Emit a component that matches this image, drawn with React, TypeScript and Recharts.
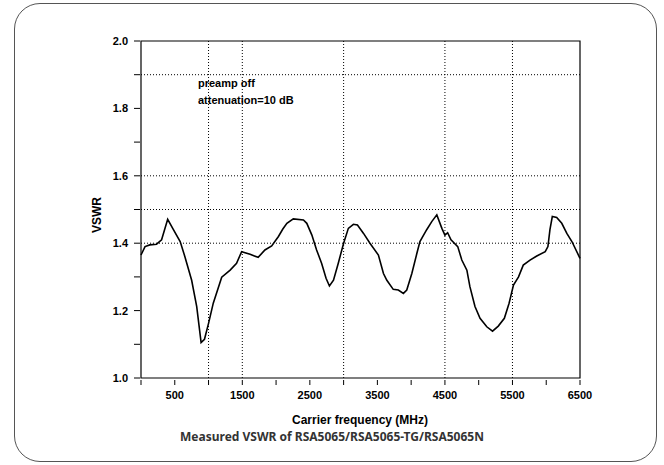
import React from "react";
import {
    LineChart,
    Line,
    XAxis,
    YAxis,
    ReferenceLine,
    ReferenceArea,
} from "recharts";

// 측정 주파수 (MHz)
const freqs = [
    0, 60, 130, 230, 305, 395, 480, 580, 650, 750, 825, 890, 940, 1000,
    1070, 1195, 1320, 1415, 1490, 1615, 1735, 1835, 1935, 2035, 2100, 2160,
    2255, 2405, 2455, 2530, 2600, 2675, 2740, 2790, 2850, 2920, 3000, 3070,
    3145, 3205, 3295, 3390, 3515, 3590, 3640, 3735, 3810, 3885, 3935, 4010,
    4085, 4130, 4230, 4305, 4380, 4455, 4500, 4540, 4590, 4690, 4750, 4825,
    4870, 4945, 5020, 5120, 5205, 5290, 5380, 5450, 5515, 5590, 5660, 5760,
    5860, 5985, 6025, 6055, 6090, 6155, 6230, 6305, 6380, 6500,
];

// VSWR 값
const vswr = [
    1.365, 1.39, 1.395, 1.397, 1.41, 1.471, 1.44, 1.405, 1.36, 1.29, 1.212,
    1.105, 1.115, 1.162, 1.222, 1.299, 1.32, 1.34, 1.375, 1.367, 1.358, 1.38,
    1.392, 1.42, 1.442, 1.459, 1.472, 1.469, 1.459, 1.424, 1.38, 1.34, 1.296,
    1.273, 1.29, 1.34, 1.4, 1.444, 1.456, 1.454, 1.429, 1.4, 1.365, 1.31,
    1.29, 1.263, 1.261, 1.251, 1.261, 1.31, 1.37, 1.405, 1.44, 1.464, 1.484,
    1.444, 1.424, 1.431, 1.41, 1.39, 1.35, 1.32, 1.271, 1.212, 1.177, 1.152,
    1.139, 1.154, 1.177, 1.222, 1.276, 1.3, 1.335, 1.35, 1.362, 1.375, 1.39,
    1.44, 1.479, 1.476, 1.459, 1.429, 1.405, 1.355,
];

const xTicks = [0, 500, 1000, 1500, 2000, 2500, 3000, 3500, 4000, 4500, 5000, 5500, 6000, 6500];
const xLabels = [500, 1500, 2500, 3500, 4500, 5500, 6500];
const yTicks = [1.0, 1.1, 1.2, 1.3, 1.4, 1.5, 1.6, 1.7, 1.8, 1.9, 2.0];
const yLabels = [1.0, 1.2, 1.4, 1.6, 1.8, 2.0];

// 점선 격자 위치
const hGrid = [1.4, 1.5, 1.6, 1.9];
const vGrid = [1000, 1500, 3000, 4500, 5500];

const notes = ["preamp off", "attenuation=10 dB"];

const data = freqs.map((f, i) => ({ freq: f, vswr: vswr[i] }));

const FONT = "'Liberation Sans', Arial, sans-serif";

const XTick = (props: any) => {
    const { x, y, payload } = props;
    const show = xLabels.includes(payload.value);
    return (
        <g>
            <line x1={x} y1={y - 6} x2={x} y2={y - 1} stroke="#000" />
            {show && (
                <text
                    x={x}
                    y={y + 13}
                    textAnchor="middle"
                    fontFamily={FONT}
                    fontWeight="bold"
                    fontSize={11}
                    fill="#000"
                >
                    {payload.value}
                </text>
            )}
        </g>
    );
};

const YTick = (props: any) => {
    const { x, y, payload } = props;
    const show = yLabels.some((v) => Math.abs(v - payload.value) < 1e-6);
    return (
        <g>
            <line x1={x + 1} y1={y} x2={x + 7} y2={y} stroke="#000" />
            {show && (
                <text
                    x={x - 5}
                    y={y + 4}
                    textAnchor="end"
                    fontFamily={FONT}
                    fontWeight="bold"
                    fontSize={11}
                    fill="#000"
                >
                    {payload.value.toFixed(1)}
                </text>
            )}
        </g>
    );
};

const App = () => {
    return (
        <div
            style={{
                position: "absolute",
                left: 0,
                top: 0,
                width: 664,
                height: 465,
                background: "#fff",
            }}
        >
            <div
                style={{
                    position: "absolute",
                    left: 14,
                    top: 3,
                    width: 643,
                    height: 459,
                    border: "1px solid #555",
                    borderRadius: 26,
                    boxSizing: "border-box",
                }}
            />
            <LineChart
                width={664}
                height={465}
                data={data}
                margin={{ top: 41, right: 84, left: 101, bottom: 57 }}
                style={{ position: "absolute", left: 0, top: 0 }}
            >
                <XAxis
                    dataKey="freq"
                    type="number"
                    domain={[0, 6500]}
                    ticks={xTicks}
                    interval={0}
                    tick={<XTick />}
                    tickLine={false}
                    axisLine={false}
                    height={30}
                />
                <YAxis
                    type="number"
                    domain={[1, 2]}
                    ticks={yTicks}
                    interval={0}
                    tick={<YTick />}
                    tickLine={false}
                    axisLine={false}
                    width={40}
                />
                {hGrid.map((v) => (
                    <ReferenceLine
                        key={"h" + v}
                        y={v}
                        stroke="#000"
                        strokeWidth={1}
                        strokeDasharray="1 2"
                    />
                ))}
                {vGrid.map((v) => (
                    <ReferenceLine
                        key={"v" + v}
                        x={v}
                        stroke="#000"
                        strokeWidth={1}
                        strokeDasharray="1 2"
                    />
                ))}
                <ReferenceArea
                    x1={0}
                    x2={6500}
                    y1={1}
                    y2={2}
                    fill="none"
                    stroke="#000"
                    strokeWidth={1.2}
                    fillOpacity={0}
                />
                <Line
                    type="linear"
                    dataKey="vswr"
                    stroke="#000"
                    strokeWidth={1.6}
                    dot={false}
                    isAnimationActive={false}
                />
            </LineChart>
            {notes.map((n, i) => (
                <div
                    key={n}
                    style={{
                        position: "absolute",
                        left: 198,
                        top: 77 + i * 17,
                        fontFamily: FONT,
                        fontWeight: "bold",
                        fontSize: 11,
                        color: "#000",
                        whiteSpace: "nowrap",
                    }}
                >
                    {n}
                </div>
            ))}
            <div
                style={{
                    position: "absolute",
                    left: 97,
                    top: 215,
                    transform: "translate(-50%, -50%) rotate(-90deg)",
                    fontFamily: FONT,
                    fontWeight: "bold",
                    fontSize: 12,
                    color: "#000",
                }}
            >
                VSWR
            </div>
            <div
                style={{
                    position: "absolute",
                    left: 360,
                    top: 420,
                    transform: "translate(-50%, -50%)",
                    fontFamily: FONT,
                    fontWeight: "bold",
                    fontSize: 12,
                    color: "#000",
                    whiteSpace: "nowrap",
                }}
            >
                Carrier frequency (MHz)
            </div>
            <div
                style={{
                    position: "absolute",
                    left: 332,
                    top: 436,
                    transform: "translate(-50%, -50%)",
                    fontFamily: "'Noto Sans', sans-serif",
                    fontWeight: "bold",
                    fontSize: 12,
                    color: "#333",
                    whiteSpace: "nowrap",
                }}
            >
                Measured VSWR of RSA5065/RSA5065-TG/RSA5065N
            </div>
        </div>
    );
};

export default App;
